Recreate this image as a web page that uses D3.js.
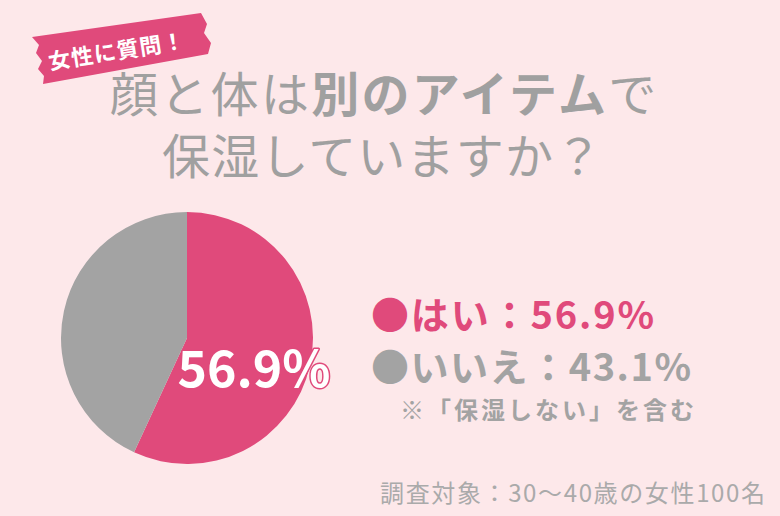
<!DOCTYPE html>
<html><head><meta charset="utf-8">
<script src="https://cdn.jsdelivr.net/npm/d3@7"></script>
<style>
html,body{margin:0;padding:0;background:#fde8ea;}
svg{display:block;}
text{font-family:"Noto Sans CJK JP","Noto Sans",sans-serif;}
</style></head>
<body>
<svg id="c" width="780" height="516"></svg>
<script>
const categories = ["はい", "いいえ"];
const values = [56.9, 43.1];
const colors = ["#e04a7b", "#a3a3a3"];
const titleLine1 = [["顔と体は", 400], ["別のアイテム", 700], ["で", 400]];
const titleLine2 = "保湿していますか？";
const badge = "女性に質問！";
const note = "※「保湿しない」を含む";
const footer = "調査対象：30〜40歳の女性100名";

const svg = d3.select("#c");
const W = 780, H = 516;
svg.append("rect").attr("width", W).attr("height", H).attr("fill", "#fde8ea");

// Badge ribbon
const ribbon = [[32,37],[201,13],[207,24],[204,33],[211,43],[208,54],[43,84],[44,76],[38,69],[42,61],[36,53],[39,45]];
svg.append("path").attr("d", d3.line()(ribbon) + "Z").attr("fill", "#e04a7b");
svg.append("text").text(badge)
  .attr("transform", "translate(118,59) rotate(-9)")
  .attr("text-anchor", "middle").attr("font-size", 22).attr("font-weight", 700)
  .attr("fill", "#fff").attr("letter-spacing", 1);

// Title
const t1 = svg.append("text").attr("x", 110).attr("y", 112)
  .attr("font-size", 48).attr("fill", "#a0a0a0").attr("letter-spacing", 2.3);
titleLine1.forEach(([s, w]) => t1.append("tspan").attr("font-weight", w).text(s));
svg.append("text").attr("x", 162).attr("y", 174).text(titleLine2)
  .attr("font-size", 48).attr("fill", "#a0a0a0").attr("letter-spacing", 1.2);

// Pie
const cx = 187, cy = 338, R = 126;
const pie = d3.pie().sort(null).value(d => d);
const arc = d3.arc().innerRadius(0).outerRadius(R);
const g = svg.append("g").attr("transform", `translate(${cx},${cy})`);
g.selectAll("path").data(pie(values)).join("path")
  .attr("d", arc).attr("fill", (d, i) => colors[i]);

svg.append("text").text(values[0].toFixed(1) + "%")
  .attr("x", 254).attr("y", 387).attr("text-anchor", "middle")
  .attr("font-size", 50).attr("font-weight", 700)
  .attr("fill", "#fff").attr("stroke", colors[0]).attr("stroke-width", 3)
  .attr("paint-order", "stroke").attr("stroke-linejoin", "round");

// Legend
const legendY = [329, 381];
const legendW = [283, 320];
categories.forEach((c, i) => {
  svg.append("text").text("●" + c + "：" + values[i].toFixed(1) + "%")
    .attr("x", 371).attr("y", legendY[i])
    .attr("font-size", 38).attr("font-weight", 700).attr("fill", colors[i])
    .attr("textLength", legendW[i]).attr("lengthAdjust", "spacing");
});
svg.append("text").text(note).attr("x", 400).attr("y", 419)
  .attr("font-size", 24).attr("font-weight", 700).attr("fill", "#a3a3a3")
  .attr("textLength", 294).attr("lengthAdjust", "spacing");
svg.append("text").text(footer).attr("x", 380).attr("y", 502)
  .attr("font-size", 24).attr("fill", "#aaaaaa")
  .attr("textLength", 385).attr("lengthAdjust", "spacing");
</script>
</body></html>
